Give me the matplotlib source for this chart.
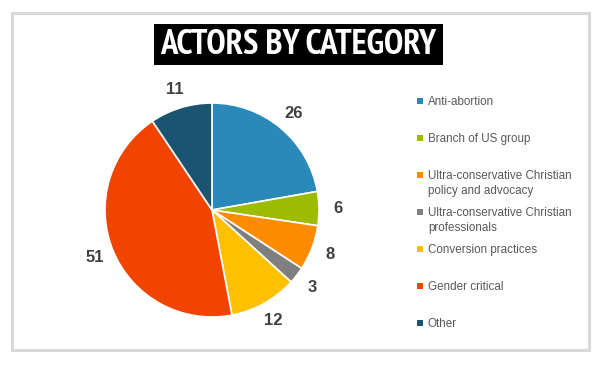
import matplotlib.pyplot as plt
from matplotlib import font_manager
from matplotlib.font_manager import FontProperties
from matplotlib.patches import Rectangle

categories = ['Anti-abortion', 'Branch of US group',
              'Ultra-conservative Christian\npolicy and advocacy',
              'Ultra-conservative Christian\nprofessionals',
              'Conversion practices', 'Gender critical', 'Other']
values = [26, 6, 8, 3, 12, 51, 11]
colors = ['#2a89b9', '#9dbb00', '#ff8c00', '#7f7f7f', '#ffc000', '#f04400', '#1b5470']
title = 'ACTORS BY CATEGORY'

W, H = 609, 370
fig = plt.figure(figsize=(W / 100, H / 100), dpi=100)

names = {f.name for f in font_manager.fontManager.ttflist}
body_font = 'Liberation Sans' if 'Liberation Sans' in names else 'DejaVu Sans'

# look for a narrow bold face for the title
title_prop = None
for key in ['Narrow', 'Condensed', 'Cond']:
    for f in font_manager.fontManager.ttflist:
        fname = f.fname.replace('-', '').replace('_', '')
        if key in fname and 'Bold' in fname and 'Oblique' not in fname \
                and 'Italic' not in fname:
            title_prop = FontProperties(fname=f.fname)
            break
    if title_prop is not None:
        break
if title_prop is None:
    title_prop = FontProperties(family='DejaVu Sans', weight='bold',
                                stretch='condensed')

# grey frame
fig.patches.append(Rectangle((12 / W, 1 - 350 / H), 577 / W, 337 / H,
                             transform=fig.transFigure, fill=False,
                             edgecolor='#d9d9d9', linewidth=2.2))

# title on black box
fig.patches.append(Rectangle((154 / W, 1 - 65 / H), 289 / W, 41 / H,
                             transform=fig.transFigure, facecolor='black',
                             edgecolor='none'))
title_prop.set_size(25)
t = fig.text(298.5 / W, 1 - 45 / H, title, color='white',
             ha='center', va='center', fontproperties=title_prop)
fig.canvas.draw()
tw = t.get_window_extent().width
if tw > 285:
    t.set_fontsize(25 * 285 / tw)

# pie
cx, cy, R = 212, 210, 107
box = 135
ax = fig.add_axes([(cx - box) / W, (H - cy - box) / H, 2 * box / W, 2 * box / H])
wedges, texts = ax.pie(values, colors=colors, startangle=90, counterclock=False,
                       labels=[str(v) for v in values], labeldistance=1.18,
                       wedgeprops=dict(edgecolor='white', linewidth=1.2),
                       textprops=dict(fontsize=12, fontweight='bold',
                                      color='#404040', family=body_font))
for tx in texts:
    tx.set_ha('center')
    tx.set_va('center')
lim = box / R
ax.set_xlim(-lim, lim)
ax.set_ylim(-lim, lim)
ax.set_aspect('equal')
ax.axis('off')

# legend
for i, (lab, col) in enumerate(zip(categories, colors)):
    y = 101 + i * 37
    fig.patches.append(Rectangle((417 / W, 1 - (y + 3) / H), 6 / W, 6 / H,
                                 transform=fig.transFigure, facecolor=col,
                                 edgecolor='none'))
    fig.text(428 / W, 1 - (y - 5) / H, lab, color='#595959', fontsize=8.4,
             ha='left', va='top', family=body_font, linespacing=1.38)

fig.savefig('out.png', dpi=100, facecolor='white')
